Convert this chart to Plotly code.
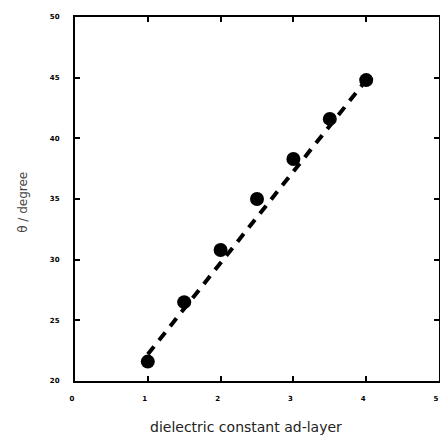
import plotly.graph_objects as go

x_vals = [1, 1.5, 2, 2.5, 3, 3.5, 4]
y_vals = [21.6, 26.5, 30.8, 35.0, 38.3, 41.6, 44.8]
fit_x = [1, 4]
fit_y = [22.2, 44.8]
x_ticks = [0, 1, 2, 3, 4, 5]
y_ticks = [20, 25, 30, 35, 40, 45, 50]

fig = go.Figure()
fig.add_trace(go.Scatter(x=fit_x, y=fit_y, mode="lines",
                         line=dict(color="black", width=4, dash="10px,8px"),
                         showlegend=False))
fig.add_trace(go.Scatter(x=x_vals, y=y_vals, mode="markers",
                         marker=dict(color="black", size=14),
                         showlegend=False))

axis_common = dict(showline=True, linecolor="black", linewidth=2, mirror="ticks",
                   ticks="inside", ticklen=5, tickwidth=2, tickcolor="black",
                   showgrid=False, zeroline=False, automargin=False,
                   tickfont=dict(family="DejaVu Sans", size=7, color="black", weight="bold"))

# page body has an 8px default margin; margins below compensate for it
fig.update_layout(
    width=448, height=436,
    margin=dict(l=67, r=17, t=9, b=63),
    plot_bgcolor="white", paper_bgcolor="white",
    xaxis=dict(range=[0, 5], tickvals=x_ticks, ticklabelstandoff=10,
               ticklabelshift=-3, **axis_common),
    yaxis=dict(range=[20, 50], tickvals=y_ticks, ticklabelstandoff=12,
               **axis_common),
    annotations=[
        dict(text="dielectric constant ad-layer", xref="paper", yref="paper",
             x=0.47, y=-0.125, xanchor="center", yanchor="middle", showarrow=False,
             font=dict(family="DejaVu Sans", size=14, color="#222")),
        dict(text="θ / degree", xref="paper", yref="paper",
             x=-0.145, y=0.49, xanchor="center", yanchor="middle", showarrow=False,
             textangle=-90,
             font=dict(family="DejaVu Sans", size=12, color="#444")),
    ],
)
fig.write_html("out.html", config={"displayModeBar": False})
